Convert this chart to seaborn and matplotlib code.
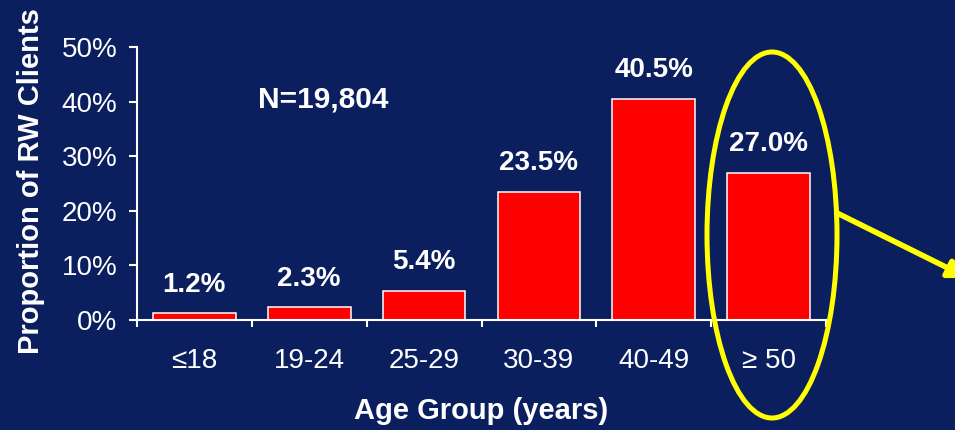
import matplotlib
matplotlib.use("Agg")
import matplotlib.pyplot as plt
import seaborn as sns
import pandas as pd
from matplotlib.patches import Ellipse, FancyArrowPatch

# Age distribution of RW clients (percent)
age_groups = ["≤18", "19-24", "25-29", "30-39", "40-49", "≥ 50"]
proportions = [1.2, 2.3, 5.4, 23.5, 40.5, 27.0]
y_ticks = [0, 10, 20, 30, 40, 50]
total_label = "N=19,804"

BG = "#0B1F5F"
W, H = 955, 430

sns.set_theme(style="white")
plt.rcParams["font.family"] = ["Liberation Sans", "DejaVu Sans"]

df = pd.DataFrame({"age": age_groups, "pct": proportions})

fig = plt.figure(figsize=(W / 100, H / 100), dpi=100, facecolor=BG)
ax = fig.add_axes([137 / W, 1 - 320 / H, 689 / W, 273 / H])
ax.set_facecolor(BG)

sns.barplot(data=df, x="age", y="pct", order=age_groups, color="#FF0000",
            saturation=1, width=0.72, edgecolor="white", linewidth=1.1, ax=ax)

ax.set_xlim(-0.5, len(age_groups) - 0.5)
ax.set_ylim(0, 50)
ax.set_yticks(y_ticks)
ax.set_yticklabels([f"{t}%" for t in y_ticks])

for s in ("top", "right"):
    ax.spines[s].set_visible(False)
for s in ("left", "bottom"):
    ax.spines[s].set_color("white")
    ax.spines[s].set_linewidth(1.5)

ax.tick_params(axis="y", colors="white", labelcolor="white", labelsize=20,
               direction="out", length=6, width=1.5, pad=8, left=True)
ax.tick_params(axis="x", which="major", length=0, pad=20, labelsize=20,
               labelcolor="white")
ax.set_xticks([i - 0.5 for i in range(len(age_groups) + 1)], minor=True)
ax.tick_params(axis="x", which="minor", direction="out", length=5, width=1.5,
               colors="white", bottom=True)

ax.set_xlabel("Age Group (years)", color="white", fontsize=21, fontweight="bold")
ax.set_ylabel("Proportion of RW Clients", color="white", fontsize=21,
              fontweight="bold")
ax.xaxis.set_label_coords(0.5, -0.283)
ax.yaxis.set_label_coords(-0.133, 0.51)

for i, v in enumerate(proportions):
    ax.text(i, v + 4.0, f"{v:.1f}%", ha="center", va="baseline", color="white",
            fontsize=20, fontweight="bold", clip_on=False)

ax.text(1.12, 40.3, total_label, ha="center", va="center", color="white",
        fontsize=21.5, fontweight="bold")

# Highlight around the oldest age group, with a pointer to the right
def fx(px):
    return px / W

def fy(py):
    return 1 - py / H

ell = Ellipse((fx(772), fy(235)), 130 / W, 366 / H, transform=fig.transFigure,
              fill=False, edgecolor="#FFFF00", linewidth=3.6, clip_on=False)
fig.patches.append(ell)

arrow = FancyArrowPatch((fx(837), fy(213)), (fx(968), fy(278)),
                        transform=fig.transFigure, arrowstyle="-|>",
                        mutation_scale=28, color="#FFFF00", linewidth=4,
                        shrinkA=0, shrinkB=0)
fig.patches.append(arrow)

fig.savefig("out.png", dpi=100, facecolor=BG)
